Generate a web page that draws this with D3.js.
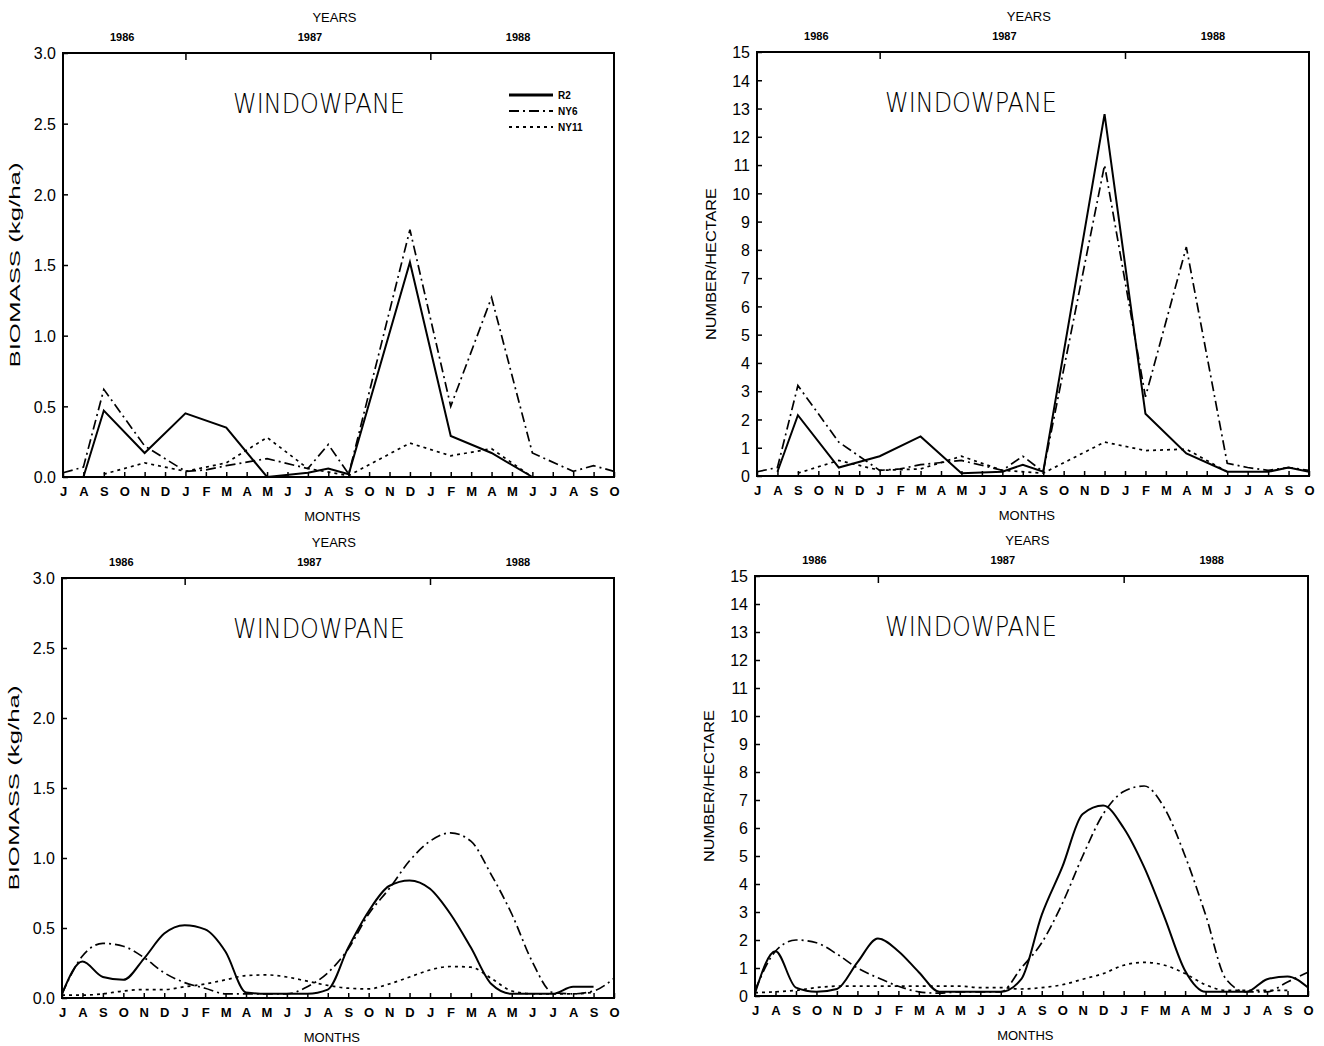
<!DOCTYPE html>
<html>
<head>
<meta charset="utf-8">
<script src="https://cdn.jsdelivr.net/npm/d3@7"></script>
<style>
  body { margin: 0; background: #fff; }
  text { font-family: "Liberation Sans", Arial, sans-serif; fill: #000; }
</style>
</head>
<body>
<svg id="chart" width="1324" height="1046"></svg>
<script>
// month axis, Jul 1986 .. Oct 1988
var months = ["J","A","S","O","N","D","J","F","M","A","M","J","J","A","S","O","N","D","J","F","M","A","M","J","J","A","S","O"];
var years = ["1986", "1987", "1988"];
var yearPos = [2.9, 12.1, 22.3];
var yearTicks = [6, 18];
var seriesNames = ["R2", "NY6", "NY11"];
var biomassTicks = [0, 0.5, 1, 1.5, 2, 2.5, 3];
var numberTicks = d3.range(0, 16);

// top left: biomass, survey values
var bioR2 = [null, 0, 0.47, null, 0.17, null, 0.45, null, 0.35, null, 0, null, 0.03, 0.06, 0.02, null, null, 1.52, null, 0.29, null, 0.17, null, 0, null, null, null, null];
var bioNY6 = [0.03, 0.07, 0.62, null, 0.22, null, 0.04, 0.05, 0.08, null, 0.13, null, 0.06, 0.23, 0.02, null, null, 1.75, null, 0.5, null, 1.27, null, 0.17, null, 0.04, 0.08, 0.04];
var bioNY11 = [null, null, 0.02, null, 0.1, null, 0.04, null, 0.1, null, 0.28, null, 0.06, null, 0.01, null, null, 0.24, null, 0.15, null, 0.2, null, 0, null, null, null, null];

// top right: number per hectare, survey values
var numR2 = [null, 0.15, 2.15, null, 0.3, null, 0.7, null, 1.4, null, 0.1, null, 0.15, 0.4, 0.15, null, null, 12.8, null, 2.2, null, 0.8, null, 0.15, null, 0.15, 0.3, 0.15];
var numNY6 = [0.15, 0.3, 3.2, null, 1.2, null, 0.2, 0.25, 0.4, null, 0.55, null, 0.2, 0.7, 0.15, null, null, 11.0, null, 2.8, null, 8.1, null, 0.45, 0.3, 0.2, 0.3, 0.2];
var numNY11 = [null, null, 0.1, null, 0.55, null, 0.2, null, 0.25, null, 0.7, null, 0.2, null, 0.1, null, null, 1.2, null, 0.9, null, 0.95, null, 0.15, null, null, null, null];

// bottom left: biomass, smoothed
var smBioR2 = [0.03, 0.26, 0.15, 0.13, 0.28, 0.46, 0.52, 0.49, 0.33, 0.04, 0.03, 0.03, 0.03, 0.06, 0.36, 0.62, 0.8, 0.84, 0.78, 0.6, 0.36, 0.1, 0.03, 0.03, 0.03, 0.08, 0.08, null];
var smBioNY6 = [0.03, 0.3, 0.39, 0.37, 0.29, 0.18, 0.11, 0.07, 0.03, 0.03, 0.03, 0.03, 0.08, 0.18, 0.35, 0.6, 0.78, 0.98, 1.12, 1.18, 1.12, 0.88, 0.6, 0.26, 0.04, 0.03, 0.05, 0.14];
var smBioNY11 = [0.02, 0.02, 0.03, 0.05, 0.06, 0.06, 0.08, 0.1, 0.13, 0.16, 0.165, 0.15, 0.12, 0.09, 0.07, 0.065, 0.1, 0.15, 0.2, 0.225, 0.22, 0.14, 0.05, 0.03, 0.03, 0.03, 0.04, null];

// bottom right: number per hectare, smoothed
var smNumR2 = [0.1, 1.6, 0.3, 0.15, 0.25, 1.2, 2.05, 1.6, 0.85, 0.15, 0.15, 0.15, 0.15, 0.6, 2.9, 4.6, 6.5, 6.8, 6.0, 4.6, 2.8, 0.9, 0.15, 0.15, 0.15, 0.6, 0.7, 0.3];
var smNumNY6 = [0.2, 1.6, 2.0, 1.9, 1.5, 1.0, 0.65, 0.35, 0.15, 0.1, 0.15, 0.15, 0.15, 1.0, 1.9, 3.3, 5.0, 6.5, 7.3, 7.5, 6.7, 5.0, 2.9, 0.6, 0.15, 0.15, 0.5, 0.85];
var smNumNY11 = [0.12, 0.15, 0.2, 0.3, 0.35, 0.35, 0.35, 0.35, 0.35, 0.35, 0.35, 0.3, 0.3, 0.25, 0.3, 0.4, 0.6, 0.8, 1.1, 1.2, 1.1, 0.8, 0.4, 0.2, 0.2, 0.2, 0.2, null];

var dashes = { R2: null, NY6: "10,4,2,4", NY11: "3,4" };
var widths = { R2: 2, NY6: 1.7, NY11: 1.7 };

var svg = d3.select("#chart");

function drawPanel(p) {
  var g = svg.append("g");
  var x = d3.scaleLinear().domain([0, months.length - 1]).range([p.left, p.right]);
  var y = d3.scaleLinear().domain(p.domain).range([p.bottom, p.top]);

  // left axis, ticks inward
  var ya = g.append("g")
    .attr("transform", "translate(" + p.left + ",0)")
    .call(d3.axisLeft(y).tickValues(p.ticks).tickFormat(p.fmt).tickSizeInner(-5).tickSizeOuter(0).tickPadding(7));
  ya.select(".domain").remove();
  ya.selectAll("line").attr("stroke", "#000").attr("stroke-width", 1.5);
  ya.selectAll("text").style("font-size", "16px").attr("dy", "0.36em");

  // month axis
  var xa = g.append("g")
    .attr("transform", "translate(0," + p.bottom + ")")
    .call(d3.axisBottom(x).tickValues(d3.range(months.length)).tickFormat(function (i) { return months[i]; })
      .tickSizeInner(-5).tickSizeOuter(0).tickPadding(10));
  xa.select(".domain").remove();
  xa.selectAll("line").attr("stroke", "#000").attr("stroke-width", 1.5);
  xa.selectAll("text").style("font-size", "13px").style("font-weight", "bold");

  // year ticks on top
  var ta = g.append("g")
    .attr("transform", "translate(0," + p.top + ")")
    .call(d3.axisTop(x).tickValues(yearTicks).tickFormat("").tickSizeInner(-7).tickSizeOuter(0));
  ta.select(".domain").remove();
  ta.selectAll("line").attr("stroke", "#000").attr("stroke-width", 1.5);

  g.selectAll(".yr").data(years).enter().append("text")
    .attr("x", function (d, i) { return x(yearPos[i]); })
    .attr("y", p.top - 12)
    .attr("text-anchor", "middle")
    .style("font-size", "11px")
    .style("font-weight", "bold")
    .text(function (d) { return d; });

  g.append("text").attr("x", x(13.3)).attr("y", p.top - 31)
    .attr("text-anchor", "middle").style("font-size", "13px").text("YEARS");
  g.append("text").attr("x", x(13.2)).attr("y", p.bottom + 44)
    .attr("text-anchor", "middle").style("font-size", "13px").text("MONTHS");

  g.append("text")
    .attr("transform", "translate(" + (p.left - p.labelOff) + "," + ((p.top + p.bottom) / 2) + ") rotate(-90)")
    .attr("text-anchor", "middle")
    .attr("textLength", p.labelLen).attr("lengthAdjust", "spacingAndGlyphs")
    .style("font-size", "14px")
    .text(p.ylabel);

  g.append("text")
    .attr("x", p.left + p.titleX).attr("y", p.top + 60)
    .attr("textLength", 172).attr("lengthAdjust", "spacingAndGlyphs")
    .style("font-family", "'DejaVu Sans', sans-serif")
    .style("font-weight", "200")
    .style("font-size", "27px")
    .text("WINDOWPANE");

  // series
  var line = d3.line()
    .x(function (d) { return x(d[0]); })
    .y(function (d) { return y(d[1]); })
    .curve(p.curve);

  seriesNames.forEach(function (name, k) {
    var pts = [];
    p.series[k].forEach(function (v, i) { if (v !== null) pts.push([i, v]); });
    g.append("path")
      .attr("d", line(pts))
      .attr("fill", "none")
      .attr("stroke", "#000")
      .attr("stroke-width", widths[name])
      .attr("stroke-dasharray", dashes[name]);
  });

  // frame
  g.append("rect")
    .attr("x", p.left).attr("y", p.top)
    .attr("width", p.right - p.left).attr("height", p.bottom - p.top)
    .attr("fill", "none").attr("stroke", "#000").attr("stroke-width", 2);

  if (p.legend) {
    var lg = g.append("g").attr("transform", "translate(" + (p.left + 446) + "," + (p.top + 42) + ")");
    seriesNames.forEach(function (name, k) {
      lg.append("line")
        .attr("x1", 0).attr("x2", 44)
        .attr("y1", k * 16).attr("y2", k * 16)
        .attr("stroke", "#000").attr("stroke-width", name === "R2" ? 3 : 2.2)
        .attr("stroke-dasharray", dashes[name]);
      lg.append("text")
        .attr("x", 49).attr("y", k * 16 + 4)
        .style("font-size", "10px").style("font-weight", "bold")
        .text(name);
    });
  }
}

var fmtBio = d3.format(".1f");
var fmtNum = d3.format("d");

drawPanel({ left: 63, top: 53, right: 614, bottom: 477, domain: [0, 3], ticks: biomassTicks, fmt: fmtBio,
  ylabel: "BIOMASS (kg/ha)", labelOff: 43, labelLen: 205, titleX: 170, curve: d3.curveLinear,
  series: [bioR2, bioNY6, bioNY11], legend: true });
drawPanel({ left: 757, top: 52, right: 1309, bottom: 476, domain: [0, 15], ticks: numberTicks, fmt: fmtNum,
  ylabel: "NUMBER/HECTARE", labelOff: 41, labelLen: 152, titleX: 128, curve: d3.curveLinear,
  series: [numR2, numNY6, numNY11], legend: false });
drawPanel({ left: 62, top: 578, right: 614, bottom: 998, domain: [0, 3], ticks: biomassTicks, fmt: fmtBio,
  ylabel: "BIOMASS (kg/ha)", labelOff: 43, labelLen: 205, titleX: 171, curve: d3.curveMonotoneX,
  series: [smBioR2, smBioNY6, smBioNY11], legend: false });
drawPanel({ left: 755, top: 576, right: 1308, bottom: 996, domain: [0, 15], ticks: numberTicks, fmt: fmtNum,
  ylabel: "NUMBER/HECTARE", labelOff: 41, labelLen: 152, titleX: 130, curve: d3.curveMonotoneX,
  series: [smNumR2, smNumNY6, smNumNY11], legend: false });
</script>
</body>
</html>
